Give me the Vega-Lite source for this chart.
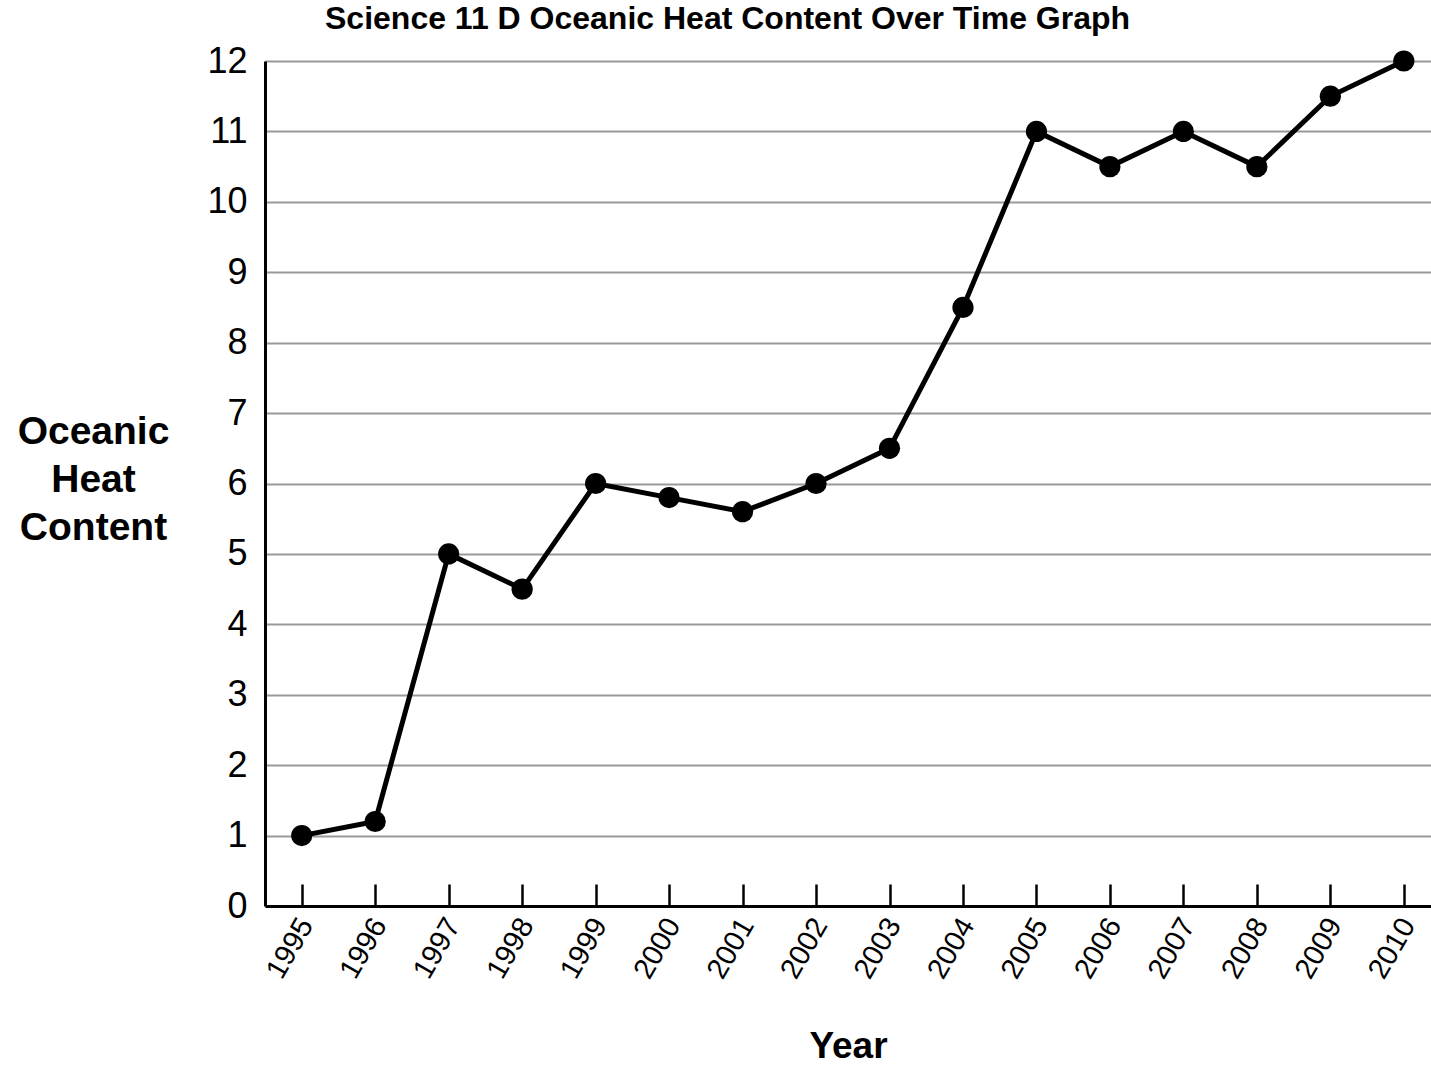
{
  "$schema": "https://vega.github.io/schema/vega-lite/v6.json",
  "autosize": "none",
  "width": 1166,
  "height": 845,
  "padding": {"left": 265, "top": 61, "right": 0, "bottom": 160},
  "background": "white",
  "title": {
    "text": "Science 11 D Oceanic Heat Content Over Time Graph",
    "anchor": "start",
    "frame": "group",
    "dx": 60,
    "offset": 7,
    "fontSize": 32,
    "fontWeight": "bold",
    "font": "Liberation Sans",
    "color": "black"
  },
  "config": {
    "view": {"stroke": null},
    "font": "Liberation Sans"
  },
  "data": {
    "values": [
      {"year": 1995, "value": 1},
      {"year": 1996, "value": 1.2},
      {"year": 1997, "value": 5},
      {"year": 1998, "value": 4.5},
      {"year": 1999, "value": 6},
      {"year": 2000, "value": 5.8},
      {"year": 2001, "value": 5.6},
      {"year": 2002, "value": 6},
      {"year": 2003, "value": 6.5},
      {"year": 2004, "value": 8.5},
      {"year": 2005, "value": 11},
      {"year": 2006, "value": 10.5},
      {"year": 2007, "value": 11},
      {"year": 2008, "value": 10.5},
      {"year": 2009, "value": 11.5},
      {"year": 2010, "value": 12}
    ]
  },
  "encoding": {
    "x": {
      "field": "year",
      "type": "quantitative",
      "scale": {"domain": [1994.5, 2010.37], "nice": false, "zero": false},
      "axis": {
        "values": [1995,1996,1997,1998,1999,2000,2001,2002,2003,2004,2005,2006,2007,2008,2009,2010],
        "format": "d",
        "grid": false,
        "domainColor": "black",
        "domainWidth": 3,
        "tickColor": "black",
        "tickWidth": 2.5,
        "tickSize": -22,
        "labelAngle": -60,
        "labelAlign": "right",
        "labelBaseline": "middle",
        "labelFontSize": 29,
        "labelColor": "black",
        "labelPadding": 36,
        "labelOffset": 4,
        "labelFlush": false,
        "labelOverlap": false,
        "title": "Year",
        "titleFontSize": 37,
        "titleFontWeight": "bold",
        "titleColor": "black",
        "titleBaseline": "alphabetic",
        "titleY": 151
      }
    },
    "y": {
      "field": "value",
      "type": "quantitative",
      "scale": {"domain": [0, 12], "nice": false},
      "axis": {
        "values": [0,1,2,3,4,5,6,7,8,9,10,11,12],
        "grid": true,
        "gridColor": "#999999",
        "gridWidth": 2,
        "domainColor": "black",
        "domainWidth": 3,
        "ticks": false,
        "labelFontSize": 36,
        "labelColor": "black",
        "labelPadding": 18,
        "labelFlush": false,
        "labelOverlap": false,
        "title": ["Oceanic", "Heat", "Content"],
        "titleAngle": 0,
        "titleAlign": "center",
        "titleBaseline": "middle",
        "titleX": -172,
        "titleY": 370,
        "titleFontSize": 39,
        "titleFontWeight": "bold",
        "titleColor": "black",
        "titleLineHeight": 48
      }
    }
  },
  "layer": [
    {"mark": {"type": "line", "color": "black", "strokeWidth": 5}},
    {"mark": {"type": "point", "filled": true, "color": "black", "opacity": 1, "size": 450}}
  ]
}
